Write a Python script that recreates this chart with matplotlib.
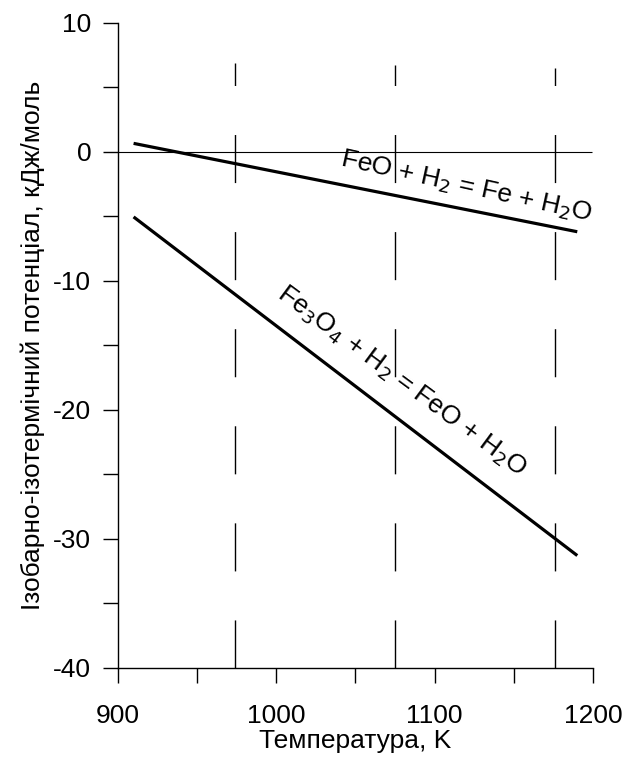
import matplotlib.pyplot as plt
from matplotlib.ticker import MultipleLocator

plt.rcParams['font.family'] = ['Liberation Sans', 'DejaVu Sans']
plt.rcParams['axes.unicode_minus'] = False

# temperatures, K and potentials, kJ/mol
T = [910, 1190]
feo = [0.65, -6.2]
fe3o4 = [-5.05, -31.3]

# isotherms (dashed) and where they stop at the top
iso_T = [974, 1075, 1176]
iso_top = [6.9, 6.7, 6.5]

fig = plt.figure(figsize=(6.33, 7.58), dpi=100)
ax = fig.add_axes([0.186, 0.119, 0.751, 0.851])

ax.hlines(0, 900, 1199, color='black', lw=0.8)
for t, top in zip(iso_T, iso_top):
    ln, = ax.plot([t, t], [-40, top], color='black', lw=1.0)
    ln.set_dashes([34.6, 35.3])

ax.plot(T, feo, color='black', lw=2.3, solid_capstyle='butt')
ax.plot(T, fe3o4, color='black', lw=2.3, solid_capstyle='butt')

ax.text(1120, -2.75, 'FeO + H$_2$ = Fe + H$_2$O', fontsize=19, rotation=-12.5,
        ha='center', va='center')
ax.text(1079, -17.8, 'Fe$_3$O$_4$ + H$_2$ = FeO + H$_2$O', fontsize=19, rotation=-36.5,
        ha='center', va='center')

ax.set_xlim(900, 1200)
ax.set_ylim(-40, 10)
ax.xaxis.set_major_locator(MultipleLocator(100))
ax.xaxis.set_minor_locator(MultipleLocator(50))
ax.yaxis.set_major_locator(MultipleLocator(10))
ax.yaxis.set_minor_locator(MultipleLocator(5))
ax.tick_params(which='both', direction='out', length=11, width=1.0, labelsize=19)
ax.tick_params(axis='x', pad=15)
ax.tick_params(axis='y', pad=8)

for s in ['top', 'right']:
    ax.spines[s].set_visible(False)
for s in ['left', 'bottom']:
    ax.spines[s].set_linewidth(1.0)

ax.set_xlabel('Температура, K', fontsize=19, labelpad=1)
ax.set_ylabel('Ізобарно-ізотермічний потенціал, кДж/моль', fontsize=19, labelpad=6)

fig.savefig('out.png', dpi=100)
